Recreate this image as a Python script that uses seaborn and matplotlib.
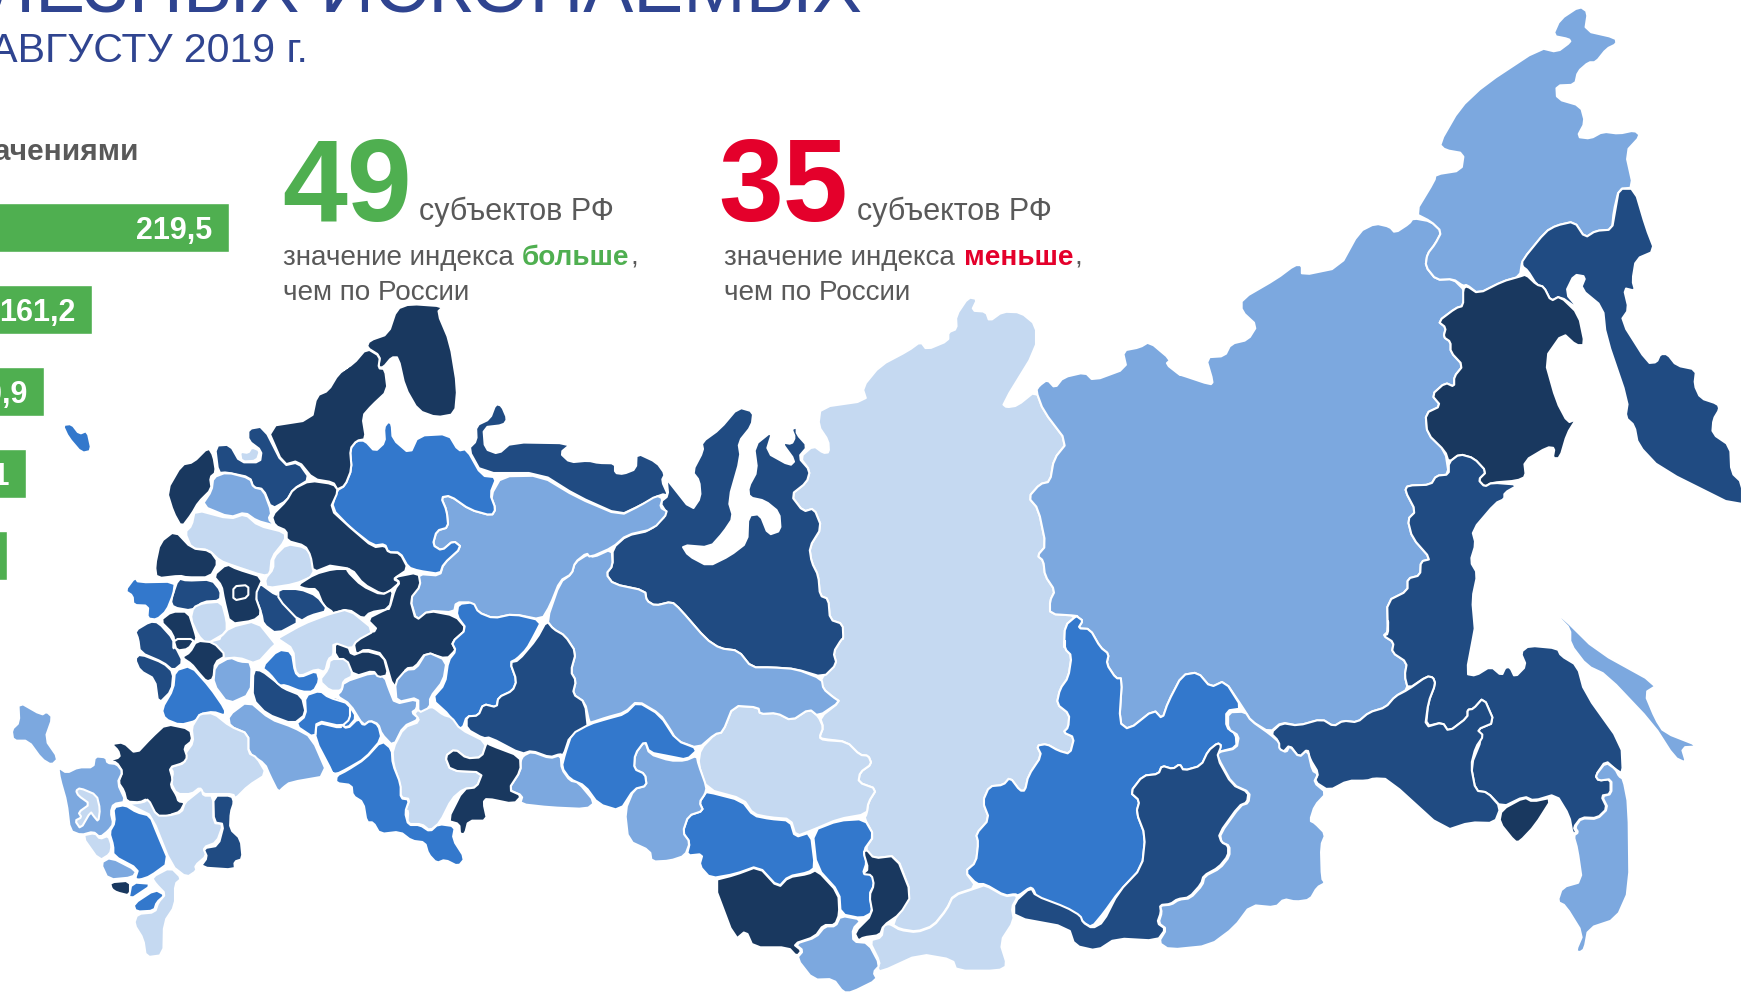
import matplotlib
matplotlib.use("Agg")
import matplotlib.pyplot as plt
import seaborn as sns
import pandas as pd

# ---------- data ----------
bar_ranks = ["1", "2", "3", "4", "5"]
bar_values = [219.5, 161.2, 140.9, 133.1, 125.0]
bar_labels = ["219,5", "161,2", "140,9", "133,1", "125,0"]
count_above = "49"
count_below = "35"
level_colors = ["#C5D9F1", "#7CA8DF", "#3378CC", "#204B82", "#19385F"]

# outline traces: origin and magnification of each traced sheet
sheets = {"A": (0, 300, 3, 3), "B": (0, 640, 3, 3), "C": (330, 300, 3, 3), "D": (330, 640, 3, 3),
          "E": (670, 640, 3, 3), "F": (1000, 620, 2.113, 3), "G": (1180, 0, 2.79, 2.45), "H": (660, 290, 3, 3)}

krasnoyarsk = [("H", [(607,295),(660,230),(745,185),(782,158),(800,182),(865,155),(865,130),(890,120),(888,80),(925,25),(952,30),(935,65),(978,68),(988,97),(1028,68),(1082,70),(1128,108),(1128,182),(1028,345),(1040,355),(1072,350),(1128,305),(1150,365),(1222,460),(1182,510),(1170,578),(1140,585),(1105,625),(1135,660),(1158,770),(1132,800),(1150,815),(1155,860),(1185,905),(1170,935),(1170,975),(1250,980),(1215,1010),(1212,1080)]),
               ("E", [(1185,0),(1185,30),(1205,50),(1195,115),(1170,150),(1160,195),(1198,225),(1195,265),(1180,280),(1213,295),(1200,345),(1165,335),(1130,315),(1100,320),(1115,350),(1075,410),(1065,455),(1050,455),(1020,415),(1000,438),(958,442),(938,488),(958,540),(918,585),(925,610),(918,670),(885,698),(920,745),(850,768),(830,810),(790,860),(740,878),(690,870),(665,855),(725,768),(680,650),(610,658),(585,630),(612,590),(583,538),(590,525),(595,490),(620,450),(565,430),(570,400),(605,375),(595,350),(570,348),(530,308),(460,300),(448,295),(460,265),(450,235),(510,188),(490,175),(460,150),(450,120),(500,75),(490,40),(515,0)]),
               ("H", [(545,1050),(548,1005),(510,992),(505,930),(480,920),(475,860),(455,820),(448,775),(485,715),(462,658),(430,668),(392,618),(440,580),(450,545),(420,505),(460,470),(490,492),(507,490),(505,455),(475,410),(482,355),(620,335)])]
yakutia = [("H", [(1138,290),(1162,272),(1185,297),(1210,265),(1275,250),(1300,275),(1400,238),(1388,185),(1440,175),(1468,158),(1532,212),(1518,225),(1560,258)]),
           ("G", [(0,920),(85,945),(92,938),(72,878),(125,875),(142,845),(190,835),(215,800),(172,765),(172,735),(270,685),(320,652),(340,652),(340,677),(445,658),(500,570),(545,550),(585,558),(600,573),(640,550),(650,537),(700,545),(730,570),(712,600),(690,625),(685,655),(715,688),(762,686),(795,715),(790,752),(770,757),(720,790),(742,805),(735,828),(755,840),(755,865),(790,898),(765,925),(765,950),(740,940),(702,970),(728,997),(685,1015),(690,1065),(740,1108),(750,1165),(715,1168),(700,1190),(635,1192),(628,1205),(658,1255),(635,1275),(648,1320),(700,1372),(672,1378),(670,1412),(635,1420),(635,1450),(578,1475),(580,1550)]),
           ("F", [(810,50),(832,70),(828,100),(860,130),(855,170),(862,210),(835,232),(815,265),(780,280),(755,310),(725,305),(705,322),(680,300),(630,320),(595,310),(570,340),(530,305),(515,270),(475,185),(445,205),(418,160),(385,168),(355,250),(343,300),(325,272),(272,332),(252,310),(258,178),(245,178),(225,135),(230,105),(212,85),(190,30),(165,28),(175,5),(165,-5)]),
           ("H", [(1250,980),(1170,975),(1170,935),(1185,905),(1155,860),(1150,815),(1132,800),(1158,770),(1135,660),(1105,625),(1140,585),(1170,578),(1182,510),(1222,460),(1150,365),(1128,305)])]
chukotka = [("G", [(655,525),(710,445),(713,430),(785,420),(792,378),(740,370),(723,355),(780,268),(850,210),(1005,120),(1052,130),(1090,105),(1085,98),(1040,90),(1060,50),(1115,18),(1138,32),(1130,78),(1215,95),(1218,110),(1190,122),(1160,155),(1140,155),(1110,178),(1102,210),(1050,212),(1052,245),(1118,262),(1130,302),(1108,338),(1145,342),(1180,325),(1225,330),(1268,322),(1285,335),(1243,375),(1265,462),(1225,465),(1210,520),(1205,565),(1160,568),(1130,585),(1100,545),(1050,555),(1020,570),(955,640),(948,680),(900,692),(832,722),(800,700),(790,703),(762,686),(715,688),(685,655),(690,625),(712,600),(730,570),(700,545)])]
kamchatka = [("G", [(1225,465),(1268,465),(1300,560),(1325,617),(1272,637),(1262,690),(1270,715),(1238,708),(1252,760),(1230,788),(1305,892),(1330,890),(1340,870),(1360,870),(1385,898),(1440,908),(1435,945),(1452,978),(1500,992),(1505,1005),(1488,1030),(1485,1065),(1535,1095),(1538,1160),(1568,1185),(1568,1250),(1340,1150),(1278,1092),(1268,1045),(1243,1025),(1250,985),(1188,825),(1180,755),(1118,710),(1132,680),(1100,675),(1075,720),(1115,762),(1060,728),(1035,740),(1015,705),(995,700),(970,665),(955,655),(955,640),(1020,570),(1050,555),(1100,545),(1130,585),(1160,568),(1205,565),(1215,515)])]
magadan = [("G", [(790,710),(800,703),(832,722),(900,692),(948,680),(965,675),(995,700),(1015,705),(1035,740),(1060,728),(1112,772),(1130,848),(1105,848),(1068,818),(1017,882),(1050,985),(1082,1038),(1105,1030),(1080,1065),(1060,1125),(1040,1125),(1045,1100),(1025,1098),(960,1132),(965,1170),(940,1180),(870,1185),(850,1195),(832,1178),(855,1158),(820,1125),(780,1115),(750,1135),(740,1108),(690,1065),(685,1015),(728,997),(702,970),(740,940),(765,950),(765,925),(790,898),(755,865),(755,840),(735,828),(742,805),(720,790),(770,757),(790,752)])]
khabarovsk = [("G", [(750,1135),(780,1115),(820,1125),(855,1158),(832,1178),(850,1195),(870,1185),(945,1190),(905,1210),(905,1225),(880,1235),(815,1302),(825,1335),(810,1378),(830,1408),(815,1470),(822,1540)]),
              ("F", [(1003,30),(985,165),(1005,170),(1037,142),(1060,170),(1068,145),(1078,145),(1088,175),(1112,140),(1100,100),(1118,80),(1178,88),(1185,110),(1220,140),(1235,220),(1313,375),(1316,465),(1300,450),(1280,425),(1258,470),(1265,485),(1290,480),(1290,525),(1270,530),(1283,568),(1262,597),(1228,595),(1212,625),(1218,640),(1210,645),(1203,590),(1175,525),(1128,545),(1108,532),(1060,565),(1030,520),(1005,515),(995,440),(1018,360),(1008,332),(1045,310),(1022,235),(1000,270),(988,272),(988,295),(948,338),(935,310),(900,322),(905,250),(920,195),(915,175),(902,172),(862,210),(855,170),(860,130),(828,100),(832,70),(810,50),(820,45),(820,0)]),
              ("G", [(580,1550),(578,1475),(635,1450),(635,1420),(670,1412),(672,1378),(700,1372),(648,1320),(635,1275),(658,1255),(628,1205),(635,1192),(700,1190),(715,1168),(750,1165)])]
amur = [("F", [(572,342),(595,312),(630,320),(680,300),(705,322),(725,305),(755,310),(780,280),(815,265),(835,232),(862,212),(902,172),(915,175),(920,195),(905,250),(898,325),(935,310),(948,338),(988,295),(988,272),(1000,270),(1022,235),(1045,310),(1008,332),(1022,350),(1005,385),(995,440),(1005,515),(1030,520),(1058,565),(1045,612),(993,610),(940,635),(820,480),(790,478),(775,485),(735,485),(695,515),(665,488),(673,462),(655,420),(650,390),(632,415),(612,378),(598,400),(588,385),(588,365)])]
sakhalin = [("F", [(1180,-6),(1188,-6),(1260,95),(1390,197),(1362,222),(1385,300),(1403,340),(1478,382),(1440,385),(1450,432),(1425,415),(1380,315),(1282,168),(1240,140),(1205,75),(1205,30)])]
primorye = [("F", [(1280,430),(1300,450),(1308,472),(1317,480),(1328,560),(1330,810),(1302,900),(1243,928),(1235,990),(1225,1000),(1217,995),(1232,945),(1195,860),(1178,848),(1188,805),(1230,788),(1220,690),(1212,650),(1222,640),(1215,625),(1228,598),(1262,600),(1285,568),(1272,532),(1292,525),(1292,480),(1265,485),(1258,470)])]
jewish_ao = [("F", [(1060,572),(1108,535),(1125,548),(1168,535),(1130,620),(1098,668),(1088,668),(1055,610)])]
irkutsk = [("E", [(1185,0),(1185,30),(1205,50),(1195,115),(1170,150),(1160,195),(1198,225),(1195,265),(1180,280),(1213,295),(1200,345),(1165,335),(1130,315),(1100,320),(1115,350),(1075,410),(1065,455),(1050,455),(1020,415),(1000,438),(958,442),(938,488),(958,540),(918,585),(925,610),(918,670),(885,698),(920,735),(945,735),(1005,770),(1035,765),(1045,770),(1080,745),(1090,750),(1100,775),(1180,805),(1230,835),(1240,850),(1265,865)]),
           ("F", [(220,880),(250,820),(300,745),(307,650),(288,580),(295,545),(275,520),(302,470),(335,465),(342,440),(365,450),(380,435),(388,455),(425,440),(440,395),(460,372),(468,380),(458,400),(500,385),(498,345),(478,325),(478,275),(512,268),(475,185),(445,205),(418,160),(385,168),(355,250),(343,300),(325,272),(272,332),(252,310),(258,178),(245,178),(225,135),(230,105),(212,85),(190,30),(165,28),(175,5),(165,-5)]),
           ("H", [(1250,980),(1215,1010),(1212,1080)])]
buryatia = [("F", [(30,850),(65,805),(75,830),(140,865),(170,890),(175,910),(195,928),(218,910),(250,820),(300,745),(307,650),(288,580),(295,545),(275,520),(302,470),(335,465),(342,440),(365,450),(380,435),(388,455),(425,440),(440,395),(460,372),(468,380),(458,415),(490,497),(525,520),(522,550),(505,560),(462,645),(468,670),(482,680),(482,710),(462,745),(430,770),(425,795),(400,835),(375,840),(360,855),(338,858),(340,880),(332,912),(350,930),(332,965),(245,958),(205,995),(158,980),(145,925),(30,895)])]
zabaykalsky = [("F", [(460,400),(500,388),(505,350),(482,330),(482,280),(518,278),(530,305),(570,345),(590,370),(590,390),(605,400),(612,380),(632,415),(650,392),(660,455),(672,465),(663,490),(690,522),(665,560),(655,605),(665,612),(688,645),(678,680),(680,778),(687,792),(670,805),(655,842),(625,848),(600,840),(582,865),(530,858),(495,925),(443,980),(358,992),(335,970),(352,930),(335,912),(342,880),(338,860),(362,857),(378,842),(402,838),(428,798),(432,772),(465,748),(485,712),(485,680),(468,670),(465,645),(508,560),(525,552),(528,520),(492,497),(460,415)])]
tuva = [("E", [(665,858),(690,873),(740,880),(790,862),(830,812),(850,770),(925,745),(945,738),(1005,772),(1035,768),(1042,775),(1025,805),(1032,845),(990,910),(1012,980),(985,995),(860,995),(848,962),(750,945),(630,1000),(622,985),(630,970),(598,905),(635,895),(640,860),(655,855)])]
tomsk = [("E", [(190,200),(265,205),(270,225),(320,222),(365,245),(418,210),(445,232),(460,265),(448,295),(460,303),(530,308),(570,348),(595,350),(605,375),(570,400),(565,430),(620,450),(595,490),(590,525),(505,540),(430,572),(378,592),(362,540),(300,535),(250,525),(220,480),(110,450),(85,375),(92,330),(135,285),(158,280)])]
novosibirsk = [("E", [(110,458),(215,485),(250,530),(300,540),(360,545),(375,595),(422,580),(435,685),(415,700),(355,712),(325,745),(265,680),(195,705),(122,718),(88,680),(98,645),(50,650),(60,610),(38,580),(55,530),(100,515),(88,490),(105,465)])]
kemerovo = [("E", [(428,575),(505,545),(583,540),(612,590),(580,635),(590,670),(578,705),(610,705),(612,740),(598,765),(608,820),(575,838),(512,825),(508,760),(440,685)])]
khakassia = [("E", [(590,632),(612,658),(678,650),(725,768),(690,825),(640,860),(630,888),(580,895),(565,905),(553,880),(608,825),(598,770),(612,738),(605,708),(578,705),(595,690),(580,640)])]
altai_krai = [("E", [(128,725),(195,708),(265,682),(325,747),(355,715),(415,705),(440,692),(505,762),(508,825),(495,858),(460,858),(435,893),(370,915),(395,935),(380,952),(355,925),(250,925),(228,875),(195,903)])]
altai_rep = [("E", [(512,830),(575,842),(548,870),(550,908),(595,912),(630,978),(610,1000),(622,1022),(545,1060),(520,1060),(490,1020),(430,1022),(380,958),(400,935),(375,915),(438,895),(465,862),(497,862)])]
omsk = [("D", [(945,305),(915,345),(912,390),(945,405),(950,440),(912,450),(885,515),(895,605),(960,635),(965,668)]),
        ("E", [(0,665),(45,650),(60,610),(38,580),(55,530),(100,515),(88,490),(105,465),(110,445),(85,375),(80,350),(45,365),(0,365)]),
        ("D", [(958,345)])]
tyumen = [("C", [(650,965),(670,990),(705,1010)]),
          ("D", [(738,40),(722,98),(738,125),(728,165),(765,190),(778,250),(785,250),(830,235),(885,220),(922,185),(990,225)]),
          ("E", [(0,270),(20,305),(85,328),(135,285),(158,280),(190,200),(265,205),(270,225),(320,222),(365,245),(418,210),(445,232),(510,188),(490,175),(460,150),(455,120),(378,90),(305,85),(245,85),(205,35),(150,28),(108,0)]),
          ("C", [(1050,930),(1025,908),(975,920),(950,905),(945,875),(850,855),(828,825),(848,800),(845,750),(790,775),(775,765),(735,790),(725,825),(690,850)])]
yamal = [("C", [(848,748),(890,710),(960,695),(1012,645),(990,610),(1015,590),(1010,540)]),
         ("H", [(20,570),(95,665),(122,625),(118,575),(97,548),(130,485),(125,460),(180,420),(235,355),(280,368),(275,410),(235,460),(242,505),(205,635),(220,685),(190,730),(150,775),(65,768),(85,800),(145,832),(210,800),(262,760),(265,680),(300,675),(325,738),(362,725),(358,670),(315,635),(268,625),(265,595),(292,545),(282,470),(338,425),(318,490),(390,530),(405,515),(365,460),(395,465),(405,445),(395,420),(410,415),(410,435),(443,472),(415,505),(450,545),(440,580),(392,618),(430,668),(462,658),(485,715),(448,775),(455,820),(475,860),(480,920),(505,930),(510,992),(548,1005),(550,1050)]),
         ("E", [(515,0),(490,40),(500,75),(460,115),(378,90),(305,85),(245,85),(205,35),(150,28),(108,0)]),
         ("C", [(1050,930),(1025,908),(975,920),(950,905),(945,875),(850,855),(828,825),(848,800)])]
komi = [("C", [(515,532),(632,530),(740,595),(870,650),(930,620),(980,590),(998,598),(990,625),(1015,640),(970,690),(890,708),(848,745),(780,775),(770,762),(735,790),(725,825),(690,845),(660,920),(635,962),(550,945),(490,958),(445,940),(425,910),(378,910),(372,940),(295,935),(260,965),(240,900),(270,860),(265,825),(330,830),(340,795),(395,745),(370,725),(335,755),(308,738),(320,695),(355,685),(350,635),(333,595),(360,590),(420,632),(485,650),(497,630),(482,590)])]
nenets = [("C", [(415,450),(440,425),(438,380),(480,360),(497,315),(515,320),(532,360),(520,378),(460,385),(465,450),(505,465),(545,430),(725,433),(690,462),(720,490),(775,485),(805,492),(855,493),(855,522),(880,525),(918,510),(920,462),(980,490),(1005,525),(995,545),(1015,590),(995,585),(930,620),(870,648),(740,590),(632,522),(455,522)])]
arkhangelsk = [("C", [(60,450),(80,425),(105,425),(135,458),(165,430),(162,385),(175,368),(185,375),(188,420),(240,465),(265,410),(355,405),(385,455),(410,450),(455,530),(500,535),(480,585),(497,630),(485,650),(420,632),(360,590),(333,595),(350,635),(355,685),(320,695),(308,738),(335,755),(370,725),(395,745),(340,795),(330,825),(265,815),(235,805),(210,760),(175,760),(165,735),(130,740),(60,685),(5,628),(20,575),(45,560),(65,510)])]
murmansk = [("C", [(110,145),(118,125),(175,105),(200,30),(240,15),(340,22),(322,40),(360,130),(382,265),(375,345),(320,355),(265,335),(225,265),(205,175),(185,175),(160,205),(145,205),(150,170)])]
karelia = [("A", [(800,383),(935,362),(950,290),(985,275),(1015,225),(1050,200)]),
           ("C", [(25,220),(70,195),(110,148),(150,172),(145,208),(165,210),(173,275),(125,320),(97,352),(108,420),(80,425),(60,450),(65,510),(45,560),(20,572)]),
           ("A", [(1010,568),(1000,550),(940,540),(895,485),(850,498)])]
leningrad = [("A", [(645,440),(690,437),(720,490),(780,490),(785,455),(745,425),(745,390),(790,382),(850,500),(895,490),(930,540),(880,570),(860,605),(815,630),(790,570),(760,565),(750,535),(680,520),(655,522)])]
spb = [("A", [(720,458),(745,462),(755,445),(780,455),(770,485),(725,488)])]
pskov = [("A", [(500,575),(545,497),(580,490),(625,445),(640,470),(648,520),(630,535),(635,570),(595,610),(575,645),(545,685),(520,640)])]
novgorod = [("A", [(640,535),(680,520),(750,538),(760,565),(790,572),(815,640),(805,660),(825,680),(770,665),(735,640),(690,655),(605,620),(635,575)])]
tver = [("A", [(585,632),(690,660),(735,645),(775,680),(855,700),(855,725),(815,775),(810,825),(790,830),(700,800),(660,785),(625,752),(575,748),(555,700),(575,680)])]
smolensk = [("A", [(525,695),(575,748),(630,755),(655,790),(630,835),(560,835),(540,830),(470,838),(465,800),(480,730)])]
yaroslavl = [("A", [(860,735),(915,745),(935,770),(942,830),(885,855),(800,868),(795,840),(820,810),(820,775)])]
vologda = [("A", [(815,650),(860,605),(880,570),(930,545),(1000,555),(1015,575),(990,630),(1050,685)]),
           ("C", [(60,685),(130,745),(165,740),(175,760),(210,762),(235,810),(190,840),(210,850),(175,880),(155,885),(100,855),(65,810),(0,800)]),
           ("A", [(990,800),(940,820),(932,770),(915,740),(860,725),(860,695),(825,680)])]
kostroma = [("A", [(890,860),(945,825),(1000,810),(1050,810)]),
            ("C", [(50,815),(95,860),(155,888),(190,870),(178,930),(120,940),(100,960),(55,930),(0,945)]),
            ("A", [(1000,940),(970,920),(950,870),(920,870)])]
nizhny = [("C", [(265,820),(272,860),(240,900),(258,965),(295,935),(375,950),(410,990),(365,1030),(375,1050)]),
          ("D", [(375,35),(350,60),(288,40),(255,85),(228,88),(215,120),(190,148),(160,45),(105,30),(78,48),(70,5)]),
          ("C", [(70,1030),(85,1005),(145,995),(110,960),(170,930),(178,930),(195,870),(210,850),(190,835)])]
kirov = [("C", [(385,915),(430,910),(445,940),(490,958),(550,945),(635,965),(612,1010),(590,1050)]),
         ("D", [(560,60),(540,70),(560,125),(548,155),(505,175),(500,205),(460,195),(445,230),(410,232),(398,268),(375,265),(360,230),(305,180),(345,135),(355,65),(378,35)]),
         ("C", [(365,1030),(410,990),(380,950)])]
sverdlovsk = [("D", [(620,0),(565,65),(540,70),(560,125),(548,155),(505,175),(500,205),(460,195),(445,230),(410,232),(410,270),(460,298),(480,295),(575,345),(605,335),(660,355),(690,345),(700,350),(720,290),(775,280),(765,190),(728,165),(738,125),(722,98),(738,40)]),
              ("C", [(705,1010),(670,990),(650,965)])]
chelyab_light = [("D", [(580,350),(605,338),(660,358),(692,348),(695,390),(720,425),(745,430),(795,490),(770,510),(660,505),(570,495),(578,470),(535,452),(572,395),(572,365)])]
kurgan = [("D", [(780,255),(830,240),(885,225),(922,188),(990,228)]),
          ("E", [(20,305),(85,330),(50,362),(0,352)]),
          ("D", [(958,340),(945,305),(915,345),(912,390),(945,405),(950,440),(912,450),(870,515),(805,495),(765,440),(720,420),(695,385),(705,345),(725,285)])]
chelyabinsk = [("D", [(480,318),(570,352),(572,395),(535,452),(575,470),(552,495),(470,478),(460,490),(472,545),(415,545),(405,585),(390,585),(388,555),(352,545),(400,450),(440,445),(458,400),(362,395),(345,352),(375,330),(410,358),(455,355),(470,310)])]
samara = [("D", [(300,205),(310,205),(340,228),(365,235),(390,270),(470,310),(455,355),(410,358),(375,330),(345,352),(362,395),(458,400),(440,445),(400,450),(365,480),(330,550),(300,575),(275,555),(232,555),(235,515),(225,515),(240,480),(212,475),(210,435),(190,375),(188,330),(222,265),(270,248),(250,218)])]
saratov_east = [("D", [(155,305),(185,330),(188,375),(212,435),(212,478),(238,482),(225,520),(235,558),(270,558),(300,578),(325,555),(375,562),(368,600),(405,658),(385,682),(345,662),(320,672),(295,645),(285,610),(245,605),(210,578),(150,585),(130,550),(110,550),(100,490),(68,470),(65,438),(18,432),(20,410),(50,395),(105,360)])]
udmurtia = [("D", [(40,130),(130,100),(165,115),(175,145),(195,195),(262,180),(260,210),(245,220),(268,240),(220,262),(190,322),(155,285),(145,255),(120,245),(100,260),(60,195),(20,170),(35,155)])]
tatarstan = [("D", [(195,130),(228,92),(258,90),(290,38),(350,65),(340,125),(300,175),(300,205),(265,222),(265,175),(200,190)])]
chuvashia = [("D", [(15,12),(50,10),(65,50),(105,35),(160,50),(175,108),(145,115),(130,95),(75,112),(15,50)])]
mordovia = [("D", [(0,60),(50,60),(70,110),(40,125),(35,155),(0,155)]), ("B", [(958,125),(985,90)])]
ulyanovsk = [("D", [(0,175),(20,175),(55,195),(80,235),(52,268),(25,250),(0,245)]), ("B", [(980,165),(958,155),(940,160)])]
saratov = [("D", [(25,250),(52,270),(85,238),(100,260),(120,245),(145,258),(155,300),(105,358),(50,390),(20,405),(0,400)]),
           ("B", [(1000,405),(945,300),(950,250),(1025,268)])]
penza = [("B", [(915,170),(960,155),(985,175),(1050,195),(1050,240),(1025,262),(950,245),(945,298),(885,258),(918,230)])]
ryazan = [("C", [(0,945),(55,930),(135,995),(80,1025),(65,1050)]),
          ("D", [(10,10),(10,50)]),
          ("B", [(985,60),(975,100),(950,90),(900,112),(885,95),(880,30),(835,0)]),
          ("A", [(830,1020),(910,975),(975,950)])]
tula = [("A", [(655,1020),(690,985),(770,965),(830,1040)]),
        ("B", [(825,15),(770,75),(715,55),(655,60),(620,10),(660,0)])]
vladimir = [("A", [(775,850),(830,890),(830,875),(905,965),(830,1005),(790,975),(785,945),(765,890)])]
ivanovo = [("A", [(835,870),(900,870),(950,890),(985,935),(930,950),(900,968),(835,900)])]
moscow_obl = [("A", [(640,830),(680,795),(710,810),(790,835),(765,890),(785,945),(760,965),(690,975),(672,900),(665,860)])]
moscow_city = [("A", [(700,862),(745,858),(745,895),(700,905)])]
kaluga = [("A", [(535,838),(560,845),(635,842),(662,875),(660,905),(610,908),(575,935),(520,925),(512,905)])]
belarus_side = [("A", [(405,835),(415,850),(525,848),(520,885),(500,935),(470,962),(442,958),(445,920),(400,918),(398,890),(375,875)])]
oryol = [("A", [(580,925),(610,912),(665,908),(680,965),(680,1000),(620,1035),(595,1010),(572,960)])]
bryansk = [("A", [(480,965),(515,938),(565,938),(585,1000),(590,1020),(570,1050),(525,1050),(520,1005)])]
kursk = [("A", [(405,995),(450,968),(475,970),(520,1020),(520,1050)]),
         ("B", [(525,20),(550,70),(520,95),(490,70),(420,40),(415,0)])]
belgorod = [("B", [(405,60),(420,45),(490,72),(520,100),(515,155),(475,195),(465,120),(420,95)])]
darkest_1 = [("B", [(520,0),(585,0),(565,30),(530,35)])]
darkest_2 = [("B", [(545,55),(570,40),(590,5),(640,10),(678,50),(645,70),(640,120),(620,128),(595,100),(575,75)])]
voronezh = [("B", [(525,95),(572,80),(630,145),(675,210),(675,230),(640,218),(600,225),(590,245),(540,258),(495,240),(485,210),(520,150)])]
lipetsk = [("B", [(645,80),(690,55),(720,68),(755,70),(752,165),(685,195),(640,135)])]
tambov = [("B", [(760,92),(785,95),(830,130),(850,148),(905,170),(918,225),(880,255),(800,225),(758,180)])]
ryazan_low = [("B", [(785,85),(835,32),(875,38),(885,100),(900,115),(950,95),(958,125),(940,158),(905,158),(855,138),(838,140),(810,105)])]
volgograd = [("B", [(745,185),(810,240),(880,265),(935,295),(985,410),(870,430),(850,445),(835,460),(810,410),(795,375),(745,342),(745,285),(690,262),(685,230)])]
rostov_pale = [("B", [(600,225),(640,222),(690,262),(745,285),(745,342),(770,355),(800,405),(745,440),(705,480),(700,465),(640,465),(610,465),(600,445),(575,465),(530,465),(512,430),(520,400),(510,385),(555,372),(555,345),(580,310),(575,265),(590,240)])]
rostov = [("B", [(335,315),(370,310),(408,345),(455,295),(498,255),(570,270),(577,305),(552,325),(562,355),(550,372),(508,385),(518,420),(512,440),(530,470),(535,487),(555,490),(540,518),(510,528),(495,537),(470,530),(440,480),(420,490),(380,488),(372,455),(355,430),(368,398),(350,370),(325,365),(360,355),(355,335)])]
crimea = [("B", [(55,188),(125,228),(140,218),(158,235),(135,300),(175,358),(155,378),(125,360),(85,305),(40,305),(35,272),(58,250)])]
krasnodar = [("B", [(175,385),(200,402),(235,385),(280,385),(285,352),(318,355),(322,372),(350,375),(368,398),(352,432),(378,488),(340,495),(332,520),(340,555),(325,575),(300,595),(280,578),(243,588),(210,575),(200,490),(180,420)])]
adygea = [("B", [(228,455),(240,447),(290,468),(300,510),(295,548),(280,530),(272,518),(242,570),(225,545),(245,535),(235,520),(270,495),(235,470)])]
stavropol_pale = [("B", [(385,495),(430,490),(445,480),(470,530),(505,530),(545,520),(555,490),(580,470),(605,450),(610,470),(640,470),(640,552),(670,555),(650,610),(610,625),(620,650),(585,680),(590,695),(560,715),(515,680),(455,530),(415,510)])]
kalmykia = [("B", [(640,470),(695,470),(702,490),(692,520),(690,570),(722,600),(728,660),(703,668),(705,692),(600,685),(622,655),(610,628),(655,620),(672,555),(642,550)])]
stavropol = [("B", [(340,505),(375,498),(410,520),(450,530),(470,580),(508,670),(450,712),(420,722),(405,720),(415,690),(340,650),(340,620),(328,580),(345,550)])]
karachay = [("B", [(245,590),(285,582),(300,600),(325,590),(335,620),(330,645),(298,665)])]
kbr = [("B", [(302,672),(332,655),(410,695),(398,715),(325,722)])]
north_ossetia = [("B", [(330,730),(390,725),(390,770),(350,760),(335,750)])]
ingushetia = [("B", [(395,730),(460,735),(385,785)])]
chechnya = [("B", [(400,795),(465,752),(495,768),(470,790),(462,815),(408,818)])]
dagestan = [("B", [(455,715),(512,685),(545,718),(525,735),(525,800),(492,850),(490,948),(438,955),(430,900),(402,855),(412,825),(465,820),(475,790),(497,765),(468,735)])]
kaliningrad = [("A", [(188,378),(215,375),(238,405),(262,395),(275,455),(245,462),(205,415)])]

# level index: 0 palest ... 4 darkest
map_regions = [
    (krasnoyarsk, 0), (yakutia, 1), (chukotka, 1), (kamchatka, 3), (magadan, 4), (khabarovsk, 3), (amur, 3),
    (sakhalin, 1), (primorye, 1), (jewish_ao, 4), (irkutsk, 2), (zabaykalsky, 1), (buryatia, 3), (tuva, 0),
    (tomsk, 0), (novosibirsk, 2), (kemerovo, 2), (khakassia, 4), (altai_krai, 4), (altai_rep, 1), (omsk, 1),
    (yamal, 3), (tyumen, 1), (nenets, 3), (komi, 1), (arkhangelsk, 2), (murmansk, 4), (karelia, 4),
    (leningrad, 3), (spb, 0), (pskov, 4), (novgorod, 1), (tver, 0), (smolensk, 4), (yaroslavl, 0),
    (vologda, 4), (kostroma, 4), (nizhny, 4), (kirov, 2), (sverdlovsk, 3), (chelyab_light, 1), (kurgan, 2),
    (samara, 0), (chelyabinsk, 4), (saratov_east, 2), (udmurtia, 1), (tatarstan, 1), (chuvashia, 4),
    (mordovia, 0), (ulyanovsk, 2), (saratov, 2), (penza, 2), (ryazan, 0), (tula, 0),
    (vladimir, 3), (ivanovo, 3), (moscow_obl, 4), (moscow_city, 4), (kaluga, 3), (belarus_side, 2), (oryol, 0),
    (bryansk, 4), (kursk, 3), (belgorod, 3), (darkest_1, 4), (darkest_2, 4), (voronezh, 2), (lipetsk, 1),
    (tambov, 3), (ryazan_low, 2), (volgograd, 1), (rostov_pale, 0), (rostov, 4), (crimea, 1), (krasnodar, 1),
    (adygea, 0), (stavropol_pale, 0), (kalmykia, 3), (stavropol, 2), (karachay, 0), (kbr, 1), (north_ossetia, 4),
    (ingushetia, 2), (chechnya, 2), (dagestan, 0), (kaliningrad, 2),
]

# ---------- figure ----------
sns.set_theme(style="white")
plt.rcParams["font.family"] = ["Liberation Sans", "DejaVu Sans"]
W, H = 1742, 995
fig = plt.figure(figsize=(W / 100, H / 100), dpi=100, facecolor="white")
ax = fig.add_axes([0, 0, 1, 1])
ax.set_xlim(0, W)
ax.set_ylim(H, 0)
ax.axis("off")

palette = sns.color_palette(level_colors)


def trace(segments):
    pts = []
    for sheet, seg in segments:
        x0, y0, fx, fy = sheets[sheet]
        pts += [(x0 + px / fx, y0 + py / fy) for px, py in seg]
    return pts


def soften(pts):
    """Round the traced corners (the outlines in the reference are curved)."""
    out = []
    n = len(pts)
    for i in range(n):
        (x1, y1), (x2, y2) = pts[i], pts[(i + 1) % n]
        out.append((0.8 * x1 + 0.2 * x2, 0.8 * y1 + 0.2 * y2))
        out.append((0.2 * x1 + 0.8 * x2, 0.2 * y1 + 0.8 * y2))
    return out


for segments, level in map_regions:
    xs, ys = zip(*soften(trace(segments)))
    ax.fill(xs, ys, facecolor=palette[level], edgecolor="white", linewidth=1.5, joinstyle="round")

# bars: axes placed so that values map to the reference's pixel positions
bar_ax = fig.add_axes([0, 1 - 597.5 / H, 300 / W, 410 / H])
bars = pd.DataFrame({"rank": bar_ranks, "value": bar_values})
sns.barplot(data=bars, x="value", y="rank", orient="h", color="#4FAF50", saturation=1, width=0.5976, ax=bar_ax)
bar_ax.set_xlim(122.06, 249.7)
bar_ax.axis("off")
for i, (v, lab) in enumerate(zip(bar_values, bar_labels)):
    bar_ax.text(v - 7.0, i + 0.03, lab, ha="right", va="center", color="white", fontsize=22, fontweight="bold")

GRAY = "#595959"
GREEN = "#4FAF50"
RED = "#E4002B"
BLUE = "#2F4490"
ax.text(862, 12, "ДОБЫЧА ПОЛЕЗНЫХ ИСКОПАЕМЫХ", ha="right", va="baseline", color=BLUE, fontsize=54)
ax.text(308, 62, "К АВГУСТУ 2019 г.", ha="right", va="baseline", color=BLUE, fontsize=29.5)
ax.text(139, 160, "Регионы с наибольшими значениями", ha="right", va="baseline", color=GRAY, fontsize=21.5, fontweight="bold")

ax.text(282, 221, count_above, ha="left", va="baseline", color=GREEN, fontsize=84, fontweight="bold")
ax.text(419, 220, "субъектов РФ", ha="left", va="baseline", color=GRAY, fontsize=22)
ax.text(283, 265, "значение индекса", ha="left", va="baseline", color=GRAY, fontsize=20.1)
ax.text(522, 265, "больше", ha="left", va="baseline", color=GREEN, fontsize=20.1, fontweight="bold")
ax.text(630, 265, ",", ha="left", va="baseline", color=GRAY, fontsize=20.1)
ax.text(283, 300, "чем по России", ha="left", va="baseline", color=GRAY, fontsize=20.1)

ax.text(718, 221, count_below, ha="left", va="baseline", color=RED, fontsize=84, fontweight="bold")
ax.text(857, 220, "субъектов РФ", ha="left", va="baseline", color=GRAY, fontsize=22)
ax.text(724, 265, "значение индекса", ha="left", va="baseline", color=GRAY, fontsize=20.1)
ax.text(964, 265, "меньше", ha="left", va="baseline", color=RED, fontsize=20.1, fontweight="bold")
ax.text(1074, 265, ",", ha="left", va="baseline", color=GRAY, fontsize=20.1)
ax.text(724, 300, "чем по России", ha="left", va="baseline", color=GRAY, fontsize=20.1)

fig.savefig("out.png", dpi=100, facecolor="white")
